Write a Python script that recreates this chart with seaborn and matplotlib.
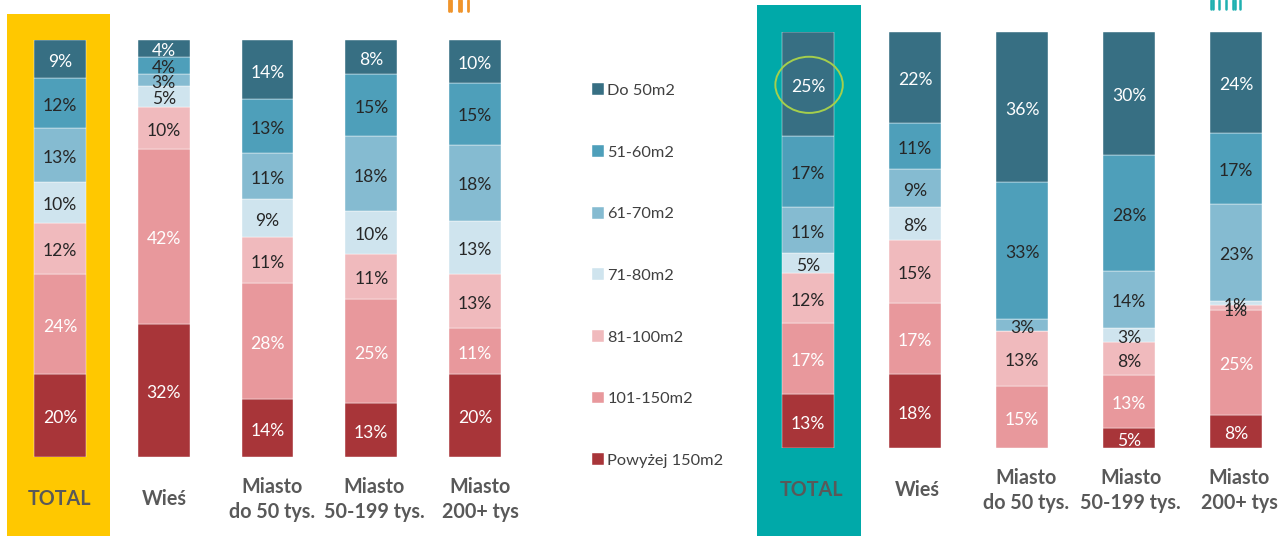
import matplotlib
matplotlib.use('Agg')
import matplotlib.pyplot as plt
import pandas as pd
import seaborn as sns
from matplotlib.lines import Line2D
from matplotlib.patches import Ellipse, Rectangle

W, H = 1285, 536

left_cats = ['TOTAL', 'Wieś', 'Miasto\ndo 50 tys.', 'Miasto\n50-199 tys.', 'Miasto\n200+ tys']
right_cats = ['TOTAL', 'Wieś', 'Miasto\ndo 50 tys.', 'Miasto\n50-199 tys.', 'Miasto\n200+ tys']
series_names = ['Powyżej 150m2', '101-150m2', '81-100m2', '71-80m2', '61-70m2', '51-60m2', 'Do 50m2']

# segments bottom to top, same order as series_names
left_over150 = [19.9, 31.9, 13.9, 12.9, 19.9]
left_101_150 = [24.0, 42.0, 27.8, 24.9, 11.0]
left_81_100 = [12.2, 10.1, 11.0, 11.0, 12.9]
left_71_80 = [9.8, 5.0, 9.1, 10.1, 12.9]
left_61_70 = [12.9, 2.9, 11.0, 18.0, 18.2]
left_51_60 = [12.0, 4.1, 13.0, 14.9, 14.9]
left_to50 = [9.1, 4.1, 14.1, 8.2, 10.1]

right_over150 = [13.0, 17.8, 0, 4.8, 7.9]
right_101_150 = [17.1, 17.1, 14.9, 12.7, 25.2]
right_81_100 = [12.0, 15.1, 13.2, 7.9, 1.2]
right_71_80 = [4.8, 7.9, 0, 3.4, 1.0]
right_61_70 = [11.1, 9.1, 2.9, 13.7, 23.3]
right_51_60 = [17.1, 11.1, 32.9, 27.9, 17.1]
right_to50 = [25.0, 21.9, 36.1, 29.6, 24.3]

left_series = [left_over150, left_101_150, left_81_100, left_71_80, left_61_70, left_51_60, left_to50]
right_series = [right_over150, right_101_150, right_81_100, right_71_80, right_61_70, right_51_60, right_to50]

palette = ['#A83539', '#E8989C', '#F0BABD', '#CFE4EE', '#85BBD1', '#4E9FBA', '#376F83']
white_text = ['white', 'white', '#262626', '#262626', '#262626', '#262626', 'white']


def px_axes(fig, x0, x1, top, bottom):
    return fig.add_axes([x0 / W, 1 - bottom / H, (x1 - x0) / W, (bottom - top) / H])


def px_rect(fig, x0, x1, top, bottom, color):
    fig.add_artist(Rectangle((x0 / W, 1 - bottom / H), (x1 - x0) / W, (bottom - top) / H,
                             transform=fig.transFigure, facecolor=color, edgecolor='none', zorder=-1))


def draw_stack(ax, cats, series, width, tick_shift):
    bottoms = [0] * len(cats)
    for name, values, color, text_color in zip(series_names, series, palette, white_text):
        df = pd.DataFrame({'cat': cats, 'val': values})
        sns.barplot(data=df, x='cat', y='val', color=color, saturation=1, width=width, errorbar=None,
                    bottom=bottoms, label=name, edgecolor='white', linewidth=0.3, ax=ax)
        labels = [f'{round(v)}%' if v > 0 else '' for v in values]
        texts = ax.bar_label(ax.containers[-1], labels=labels, label_type='center', fontsize=12.6, color=text_color)
        for t in texts:
            t.xyann = (0, -2)
        bottoms = [b + v for b, v in zip(bottoms, values)]
    ax.set_ylim(0, 100)
    ax.set_xlim(-0.5, 4.5)
    ax.set_xlabel('')
    ax.set_ylabel('')
    ax.set_yticks([])
    ax.set_xticks([i + s for i, s in enumerate(tick_shift)], cats)
    ax.tick_params(axis='x', length=0, pad=30.5)
    for t in ax.get_xticklabels():
        t.set_va('center')
        t.set_fontsize(14.2)
        t.set_fontweight('bold')
        t.set_color('#595959')
        t.set_linespacing(1.35)
    ax.patch.set_visible(False)
    sns.despine(ax=ax, left=True, bottom=True)


sns.set_theme(style='white')
plt.rcParams['font.family'] = ['Lato', 'DejaVu Sans']

fig = plt.figure(figsize=(W / 100, H / 100), dpi=100)

px_rect(fig, 7, 110, 14, 536, '#FFC800')
px_rect(fig, 757, 861, 5, 536, '#00A9A9')

ax1 = px_axes(fig, 8.1, 526.9, 40, 457)
draw_stack(ax1, left_cats, left_series, 0.5, [0, 0.01, 0.04, 0.03, 0.05])

ax2 = px_axes(fig, 754.5, 1289.5, 32, 448)
draw_stack(ax2, right_cats, right_series, 0.495, [0.03, 0.025, 0.04, 0.015, 0.03])
ax2.get_legend().remove()

ax2.add_patch(Ellipse((0.01, 87.3), 0.63, 13.5, facecolor='none', edgecolor='#A5CF4C', linewidth=1.4, clip_on=False))

handles, labels = ax1.get_legend_handles_labels()
ax1.legend(handles[::-1], labels[::-1], loc='upper left', bbox_to_anchor=((592 - 8.1) / 518.8, (457 - 83.4) / 417),
           frameon=False, fontsize=11.8, labelcolor='#404040', handlelength=0.73, handleheight=0.73,
           handletextpad=0.2, labelspacing=2.87, borderpad=0, borderaxespad=0)

# cut off pictograms at the top edge of the slide
for x in [449, 451, 459, 461, 468]:
    fig.add_artist(Line2D([x / W, x / W], [1, 1 - 11 / H], color='#F0942A', linewidth=2))
for x in [1211, 1213, 1219, 1226, 1233, 1235, 1240]:
    fig.add_artist(Line2D([x / W, x / W], [1, 1 - 9 / H], color='#1FB0B0', linewidth=1.8))

fig.savefig('out.png', dpi=100)
